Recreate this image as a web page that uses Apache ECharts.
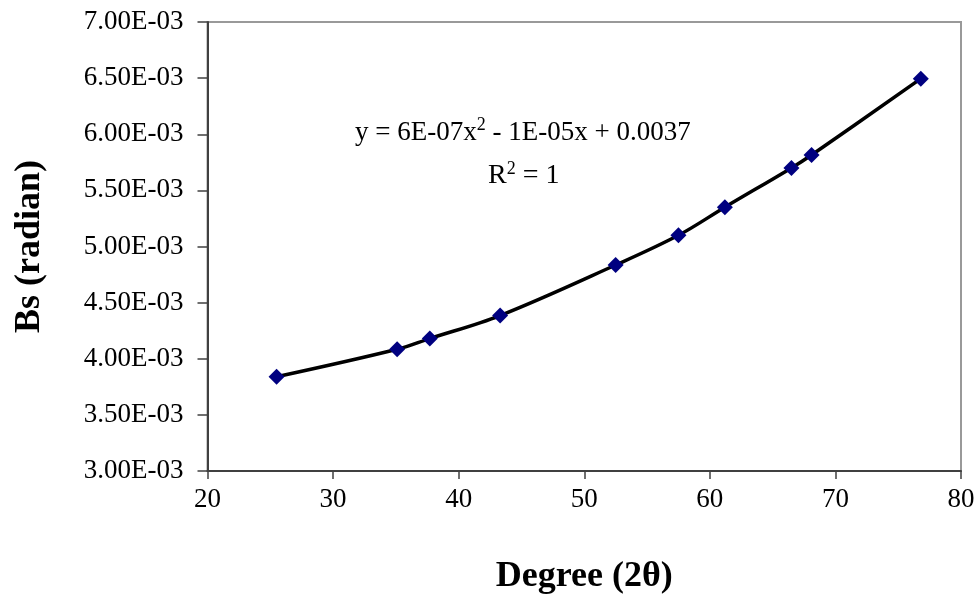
<!DOCTYPE html>
<html>
<head>
<meta charset="utf-8">
<script src="https://cdn.jsdelivr.net/npm/echarts@6/dist/echarts.min.js"></script>
<style>
  html, body { margin: 0; padding: 0; background: #fff; }
  #chart { width: 979px; height: 600px; }
</style>
</head>
<body>
<div id="chart"></div>
<script>
// Peak positions (2θ, degrees) and measured peak broadening Bs (radian)
const degree = [25.5, 35.1, 37.7, 43.3, 52.5, 57.5, 61.2, 66.5, 68.1, 76.8];
const bs = [0.00384, 0.004085, 0.00418, 0.004385, 0.004835, 0.0051, 0.00535, 0.0057, 0.005815, 0.006495];

// Axis ranges and ticks
const xTicks = [20, 30, 40, 50, 60, 70, 80];
const yMin = 0.003, yMax = 0.007, yStep = 0.0005;

// Trendline annotation text
const trendEquation = ['y = 6E-07x', '2', ' - 1E-05x + 0.0037'];
const rSquared = ['R', '2', ' = 1'];

const serif = "'Liberation Serif', 'Times New Roman', serif";

function sci(v) {
  const parts = v.toExponential(2).split('e');
  const exp = parseInt(parts[1], 10);
  const sign = exp < 0 ? '-' : '+';
  const mag = String(Math.abs(exp)).padStart(2, '0');
  return parts[0] + 'E' + sign + mag;
}

const points = degree.map((d, i) => [d, bs[i]]);

const chart = echarts.init(document.getElementById('chart'), null, { renderer: 'canvas' });

chart.setOption({
  backgroundColor: '#ffffff',
  animation: false,
  grid: {
    left: 207.5, right: 18, top: 22, bottom: 127,
    show: true, borderColor: '#999999', borderWidth: 2, backgroundColor: 'transparent'
  },
  xAxis: {
    type: 'value',
    min: xTicks[0], max: xTicks[xTicks.length - 1], interval: 10,
    name: 'Degree (2θ)',
    nameLocation: 'middle', nameGap: 88,
    nameTextStyle: { fontFamily: serif, fontWeight: 'bold', fontSize: 36, color: '#000' },
    axisLine: { show: true, lineStyle: { color: '#404040', width: 2 } },
    axisTick: { show: true, inside: false, length: 8, lineStyle: { color: '#404040', width: 1.5 } },
    axisLabel: { fontFamily: serif, fontSize: 27, color: '#000', margin: 15 },
    splitLine: { show: false }
  },
  yAxis: {
    type: 'value',
    min: yMin, max: yMax, interval: yStep,
    name: 'Bs (radian)',
    nameLocation: 'middle', nameGap: 160, nameRotate: 90,
    nameTextStyle: { fontFamily: serif, fontWeight: 'bold', fontSize: 36, color: '#000' },
    axisLine: { show: true, lineStyle: { color: '#404040', width: 2 } },
    axisTick: { show: true, inside: false, length: 10, lineStyle: { color: '#404040', width: 1.5 } },
    axisLabel: { fontFamily: serif, fontSize: 27, color: '#000', margin: 24, formatter: sci },
    splitLine: { show: false }
  },
  series: [
    {
      type: 'line',
      data: points,
      smooth: 0.35,
      symbol: 'diamond',
      symbolSize: 16,
      showSymbol: true,
      itemStyle: { color: '#000080' },
      lineStyle: { color: '#000000', width: 3.5 },
      z: 3
    }
  ],
  graphic: [
    {
      type: 'text',
      left: 355, top: 116,
      style: {
        text: '{a|' + trendEquation[0] + '}{s|' + trendEquation[1] + '}{a|' + trendEquation[2] + '}',
        rich: {
          a: { fontFamily: serif, fontSize: 27, fill: '#000', verticalAlign: 'bottom', lineHeight: 30 },
          s: { fontFamily: serif, fontSize: 18, fill: '#000', verticalAlign: 'top', lineHeight: 30 }
        }
      }
    },
    {
      type: 'text',
      left: 488, top: 160,
      style: {
        text: '{a|' + rSquared[0] + '}{s|' + rSquared[1] + '}{a|' + rSquared[2] + '}',
        rich: {
          a: { fontFamily: serif, fontSize: 28, fill: '#000', verticalAlign: 'bottom', lineHeight: 30 },
          s: { fontFamily: serif, fontSize: 18, fill: '#000', verticalAlign: 'top', lineHeight: 30 }
        }
      }
    }
  ]
});
</script>
</body>
</html>
